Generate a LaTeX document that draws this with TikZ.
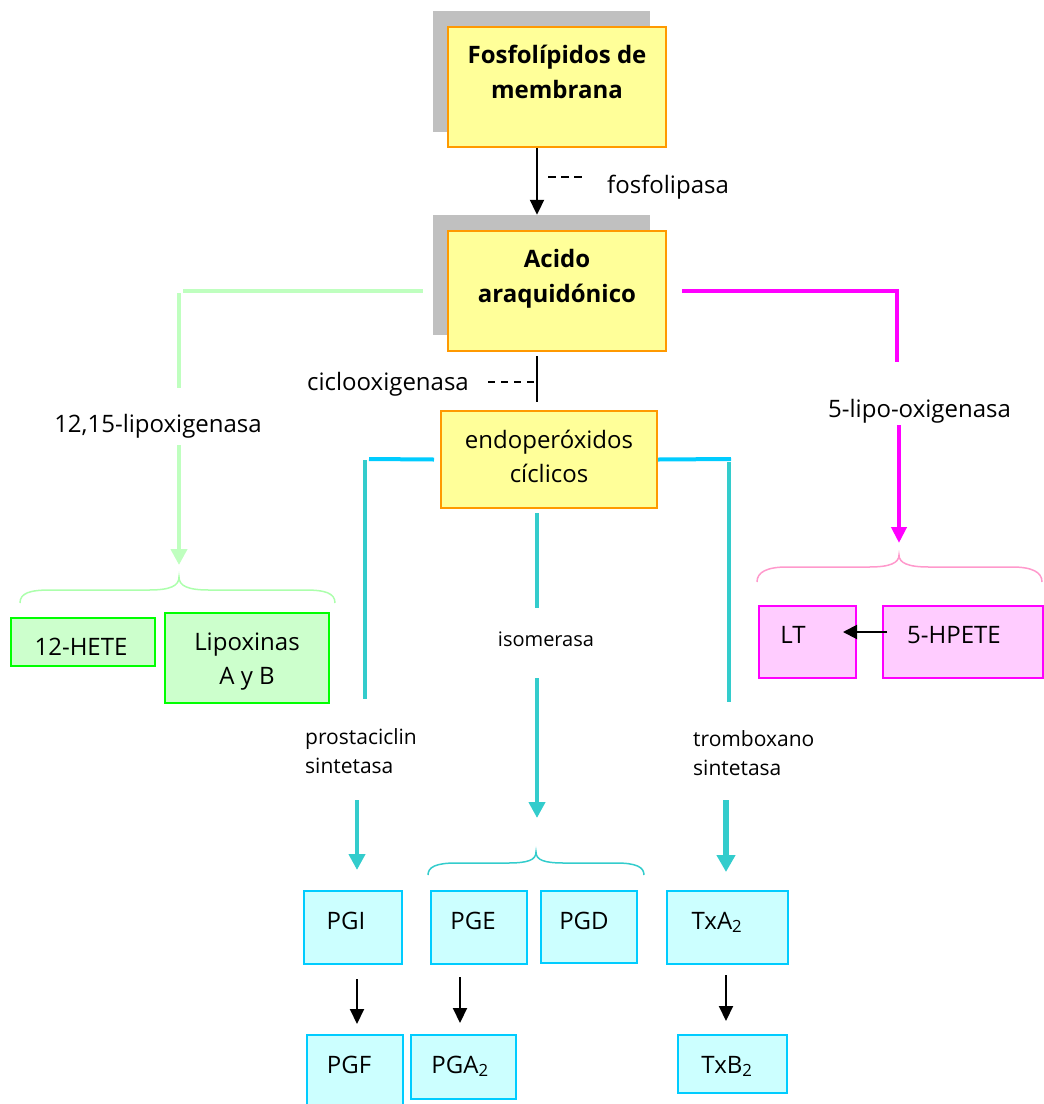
\documentclass[tikz,border=0pt]{standalone}
\usepackage{fontspec}
\setmainfont{Open Sans}
\usetikzlibrary{arrows.meta}

\definecolor{boxyellow}{HTML}{FFFF99}
\definecolor{boxorange}{HTML}{FF9900}
\definecolor{shadowgray}{HTML}{C0C0C0}
\definecolor{lightgreen}{HTML}{BFFFBF}
\definecolor{greenfill}{HTML}{CCFFCC}
\definecolor{greenedge}{HTML}{00FF00}
\definecolor{magentaline}{HTML}{FF00FF}
\definecolor{pinkfill}{HTML}{FFCCFF}
\definecolor{pinkbrace}{HTML}{FF99CC}
\definecolor{cyanline}{HTML}{00CCFF}
\definecolor{tealline}{HTML}{33CCCC}
\definecolor{cyanfill}{HTML}{CCFFFF}

\tikzset{
  box/.style={rectangle, inner sep=0pt, line width=2pt},
  ybox/.style={box, fill=boxyellow, draw=boxorange},
  gbox/.style={box, fill=greenfill, draw=greenedge},
  pbox/.style={box, fill=pinkfill, draw=magentaline},
  cbox/.style={box, fill=cyanfill, draw=cyanline},
  shadowbox/.style={rectangle, inner sep=0pt, fill=shadowgray},
  lbl/.style={inner sep=0pt, align=center, font=\fontsize{24}{34}\selectfont},
  boldlbl/.style={lbl, font=\fontsize{24}{35}\selectfont\bfseries},
  small/.style={lbl, align=left, font=\fontsize{21}{29}\selectfont},
  blackarrow/.style={-{Triangle[length=15pt,width=14pt]}, line width=2pt},
  dashline/.style={line width=1.5pt, dash pattern=on 7pt off 6pt},
  greenline/.style={lightgreen, line width=4pt},
  magline/.style={magentaline, line width=4pt},
  tealarrow/.style={tealline, line width=4pt, -{Triangle[length=16pt,width=16pt]}},
  bracestyle/.style={line width=1.5pt}
}

\begin{document}
\begin{tikzpicture}[x=1pt, y=-1pt]
\useasboundingbox (0,0) rectangle (1044,1104);
\clip (0,0) rectangle (1044,1104);

% column positions of the vertical connectors
\coordinate (colG) at (179,0);
\coordinate (colLv) at (365,0);
\coordinate (colL) at (357,0);
\coordinate (colC) at (537,0);
\coordinate (colRv) at (729,0);
\coordinate (colR) at (726,0);
\coordinate (colM) at (899,0);
\coordinate (colPGE) at (460,0);

% top boxes with their shadows
\node[shadowbox, minimum width=217pt, minimum height=121pt] (fosfoSh) at (541.5,71.5) {};
\node[ybox, minimum width=218pt, minimum height=120pt] (fosfo) at (557,87) {};
\node[boldlbl] (fosfoT) at (557,72) {Fosfolípidos de\\membrana};

\node[shadowbox, minimum width=217pt, minimum height=120pt] (acidoSh) at (541.5,275) {};
\node[ybox, minimum width=218pt, minimum height=120pt] (acido) at (557,291) {};
\node[boldlbl] (acidoT) at (557,279) {Acido\\araquidónico};

\node[ybox, minimum width=216pt, minimum height=97pt] (endo) at (549,459.5) {};
\node[lbl] (endoT) at (549,456) {endoperóxidos\\cíclicos};

% phospholipase step
\draw[blackarrow] (fosfo.south -| colC) -- (acidoSh.north -| colC);
\coordinate (fdashA) at (548,177);
\coordinate (fdashB) at (583,177);
\draw[dashline, dash pattern=on 8pt off 5pt] (fdashA) -- (fdashB);
\node[lbl, anchor=base west] (fosfolipasa) at (607,193) {fosfolipasa};

% cyclooxygenase step
\draw[line width=2pt, shorten <=4pt, shorten >=8pt] (acido.south -| colC) -- (endo.north -| colC);
\coordinate (cdashA) at (488,382);
\coordinate (cdashB) at (534,382);
\draw[dashline] (cdashA) -- (cdashB);
\node[lbl, anchor=base west] (ciclo) at (307,390) {ciclooxigenasa};

% 12,15-lipoxygenase branch
\draw[greenline] ([xshift=-10pt]acidoSh.west |- acido.center) -- (183,291);
\draw[greenline] (179,293) -- (179,388);
\node[lbl, anchor=base] (lipox1215) at (158,432) {12,15-lipoxigenasa};
\draw[greenline, -{Triangle[length=16pt,width=16pt]}] (179,445) -- (179,565);
\draw[bracestyle, lightgreen!90!green] (20,603) .. controls (20,593) and (30,590) .. (50,590) -- (149,590)
  .. controls (170,590) and (179,586) .. (179,577) .. controls (179,586) and (188,590) .. (209,590)
  -- (305,590) .. controls (325,590) and (335,593) .. (335,603);
\node[gbox, minimum width=144pt, minimum height=48pt] (hete) at (83,642) {};
\node[lbl, anchor=base] (heteT) at (81,655) {12-HETE};
\node[gbox, minimum width=164pt, minimum height=90pt] (lipox) at (247,658) {};
\node[lbl] (lipoxT) at (247,662) {Lipoxinas\\A y B};

% 5-lipoxygenase branch
\coordinate (magEnd) at (897,362);
\draw[magline] ([xshift=15pt]acido.east) -| (magEnd);
\node[lbl, anchor=base west] (lipo5) at (828,417) {5-lipo-oxigenasa};
\draw[magline, -{Triangle[length=16pt,width=15pt]}] (899,425) -- (899,543);
\draw[bracestyle, pinkbrace] (757,582) .. controls (757,572) and (767,567) .. (787,567) -- (869,567)
  .. controls (890,567) and (899,563) .. (899,555) .. controls (899,563) and (908,567) .. (929,567)
  -- (1012,567) .. controls (1032,567) and (1042,572) .. (1042,582);
\node[pbox, minimum width=97pt, minimum height=72pt] (lt) at (807.5,642) {};
\node[lbl, anchor=base] (ltT) at (793,643) {LT};
\node[pbox, minimum width=160pt, minimum height=72pt] (hpete) at (963,642) {};
\node[lbl, anchor=base] (hpeteT) at (954,643) {5-HPETE};
\draw[blackarrow, -{Triangle[length=14pt,width=14pt]}] ([xshift=5pt,yshift=10pt]hpete.west) -- ([xshift=-14pt,yshift=10pt]lt.east);

% branches from the cyclic endoperoxides
\draw[cyanline, line width=4pt] ([xshift=-6pt]endo.west) -- (369,459);
\draw[tealline, line width=4pt] (365,460) -- (365,699);
\draw[cyanline, line width=4pt] (endo.east) -- (731,459);
\draw[tealline, line width=4pt] (729,462) -- (729,702);
\draw[tealline, line width=4pt] (537,513) -- (537,608);
\node[lbl, font=\fontsize{20}{24}\selectfont, anchor=base] (isomerasa) at (546,646) {isomerasa};
\draw[tealarrow] (537,678) -- (537,818);
\node[small, anchor=west] (prosta) at (305,751) {prostaciclin\\sintetasa};
\node[small, anchor=west] (trombo) at (693,753) {tromboxano\\sintetasa};
\draw[tealarrow] (357,800) -- (357,870);
\draw[tealarrow, line width=6pt, -{Triangle[length=17pt,width=18pt]}] (726,800) -- (726,872);
\draw[bracestyle, tealline] (428,875) .. controls (428,867) and (436,863) .. (456,863) -- (508,863)
  .. controls (528,863) and (536,860) .. (536,852) .. controls (536,860) and (544,863) .. (564,863)
  -- (616,863) .. controls (636,863) and (644,867) .. (644,875);

% prostanoid products
\node[cbox, minimum width=98pt, minimum height=73pt] (pgi) at (353,927.5) {};
\node[lbl, anchor=base] (pgiT) at (346,929) {PGI};
\node[cbox, minimum width=96pt, minimum height=73pt] (pge) at (479,927.5) {};
\node[lbl, anchor=base] (pgeT) at (473,929) {PGE};
\node[cbox, minimum width=96pt, minimum height=72pt] (pgd) at (589,927) {};
\node[lbl, anchor=base] (pgdT) at (584,929) {PGD};
\node[cbox, minimum width=121pt, minimum height=73pt] (txa) at (727.5,927.5) {};
\node[lbl, anchor=base] (txaT) at (717,929) {TxA\textsubscript{2}};

\node[cbox, minimum width=96pt, minimum height=90pt] (pgf) at (355,1080) {};
\node[lbl, anchor=base] (pgfT) at (349,1073) {PGF};
\node[cbox, minimum width=105pt, minimum height=64pt] (pga) at (463.5,1067) {};
\node[lbl, anchor=base] (pgaT) at (460,1073) {PGA\textsubscript{2}};
\node[cbox, minimum width=109pt, minimum height=58pt] (txb) at (732.5,1064) {};
\node[lbl, anchor=base] (txbT) at (727,1073) {TxB\textsubscript{2}};

\draw[blackarrow, shorten <=14pt, shorten >=10pt] (pgi.south -| colL) -- (pgf.north -| colL);
\draw[blackarrow, shorten <=12pt, shorten >=11pt] (pge.south -| colPGE) -- (pga.north -| colPGE);
\draw[blackarrow, shorten <=10pt, shorten >=13pt] (txa.south -| colR) -- (txb.north -| colR);
\end{tikzpicture}
\end{document}
